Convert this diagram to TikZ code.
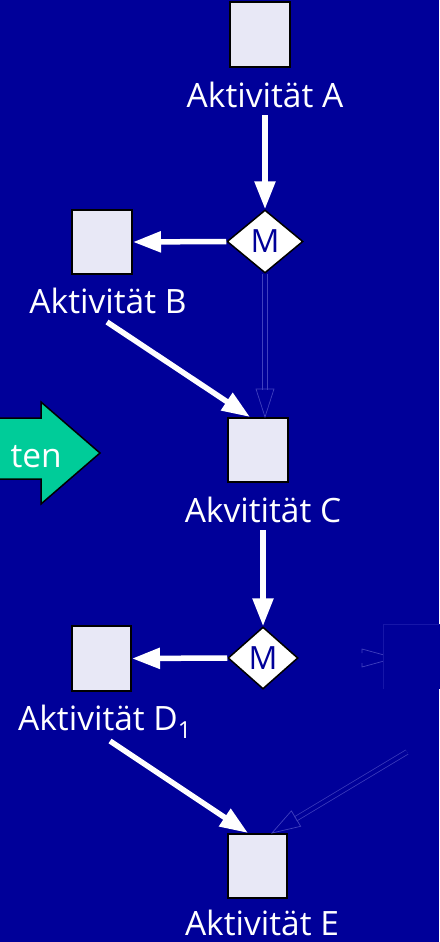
\documentclass[tikz,border=0pt]{standalone}
\usepackage{fontspec}
\setmainfont{Open Sans}
\usetikzlibrary{arrows.meta,shapes.geometric,calc}
\definecolor{bg}{RGB}{0,0,153}
\definecolor{boxfill}{RGB}{232,232,246}
\definecolor{faint}{RGB}{64,64,190}
\definecolor{faintdark}{RGB}{22,22,168}
\definecolor{arrowgreen}{RGB}{0,204,153}
\begin{document}
\begin{tikzpicture}[x=1pt,y=-1pt,
  actbox/.style={draw=black,line width=2pt,fill=boxfill,minimum width=60pt,minimum height=64pt,inner sep=0pt},
  merge/.style={diamond,draw=black,line width=1.5pt,fill=white,inner sep=0pt,text=bg,font=\fontsize{32}{36}\selectfont},
  lbl/.style={text=white,font=\fontsize{33.5}{38}\selectfont,anchor=base,inner sep=0pt},
  flow/.style={draw=white,line width=5.5pt,-{Triangle[length=28pt,width=20pt]}},
  faintline/.style={draw=faint,line width=0.7pt},
  faintdouble/.style={draw=faint,line width=0.7pt,double=bg,double distance=4pt}
]
\fill[bg] (0,0) rectangle (439,942);
\useasboundingbox (0,0) rectangle (439,942);

% green block arrow (cut off at the left edge)
\filldraw[fill=arrowgreen,draw=black,line width=1.5pt]
  (-5,418) -- (41,418) -- (41,402) -- (100,453) -- (41,504) -- (41,479) -- (-5,479) -- cycle;
\node[lbl,anchor=base east] (gt) at (62,467) {ten};

% activity boxes
\node[actbox,minimum height=65pt] (a) at (260,34.5) {};
\node[actbox] (b) at (102,242) {};
\node[actbox] (c) at (258,450) {};
\node[actbox,minimum width=59pt,minimum height=65pt] (d1) at (101.5,658.5) {};
\node[actbox,minimum width=59pt] (e) at (257.5,866) {};

% merge diamonds
\node[merge,minimum width=76pt,minimum height=63pt] (m1) at (265,241.5) {M};
\node[merge,minimum width=70pt,minimum height=62pt] (m2) at (263,658) {M};

% labels
\node[lbl] (la) at (265,107) {Aktivität A};
\node[lbl] (lb) at (108,313) {Aktivität B};
\node[lbl] (lc) at (263,522) {Akvitität C};
\node[lbl] (ld) at (105,730) {Aktivität D\textsubscript{1}};
\node[lbl] (le) at (262,935) {Aktivität E};

% free ends of the connectors
\coordinate (a1) at (265,115);
\coordinate (c1) at (263,530);
\coordinate (b1) at (107,322);
\coordinate (d1s) at (110,741);
\coordinate (fs) at (407,752);

% white connectors
\draw[flow] (a1) -- (m1.north);
\draw[flow] (m1.west) -- (b.east);
\draw[flow] (b1) -- ([xshift=-8pt]c.north);
\draw[flow] (c1) -- (m2.north);
\draw[flow] (m2.west) -- (d1.east);
\draw[flow] (d1s) -- ([xshift=-9.5pt]e.north);

% faint double connector M1 -> C
\coordinate (t1) at (m1.south |- c.north);
\draw[faintdouble,shorten >=27.5pt] (m1.south) -- (t1);
\draw[faintline] ($(t1)+(-9,-28)$) -- (t1) -- ($(t1)+(9,-28)$) -- cycle;

% faint double connector -> E
\coordinate (t2) at ([xshift=14.5pt]e.north);
\draw[faintdouble,shorten >=27.5pt] (fs) -- (t2);
\coordinate (h2) at ($(t2)!28pt!(fs)$);
\draw[faintline] ($(h2)!9pt!90:(t2)$) -- (t2) -- ($(h2)!9pt!-90:(t2)$) -- cycle;

% faint hidden element at the right
\draw[faintline] (362,653) -- (362,649) -- (395,658) -- (362,667) -- (362,663);
\node[fill=bg,minimum width=66pt,minimum height=64pt,inner sep=0pt] (d2) at (417,657) {};
\draw[draw=faintdark,line width=0.8pt] (d2.south west) -- (d2.north west) -- (d2.north east);
\end{tikzpicture}
\end{document}
